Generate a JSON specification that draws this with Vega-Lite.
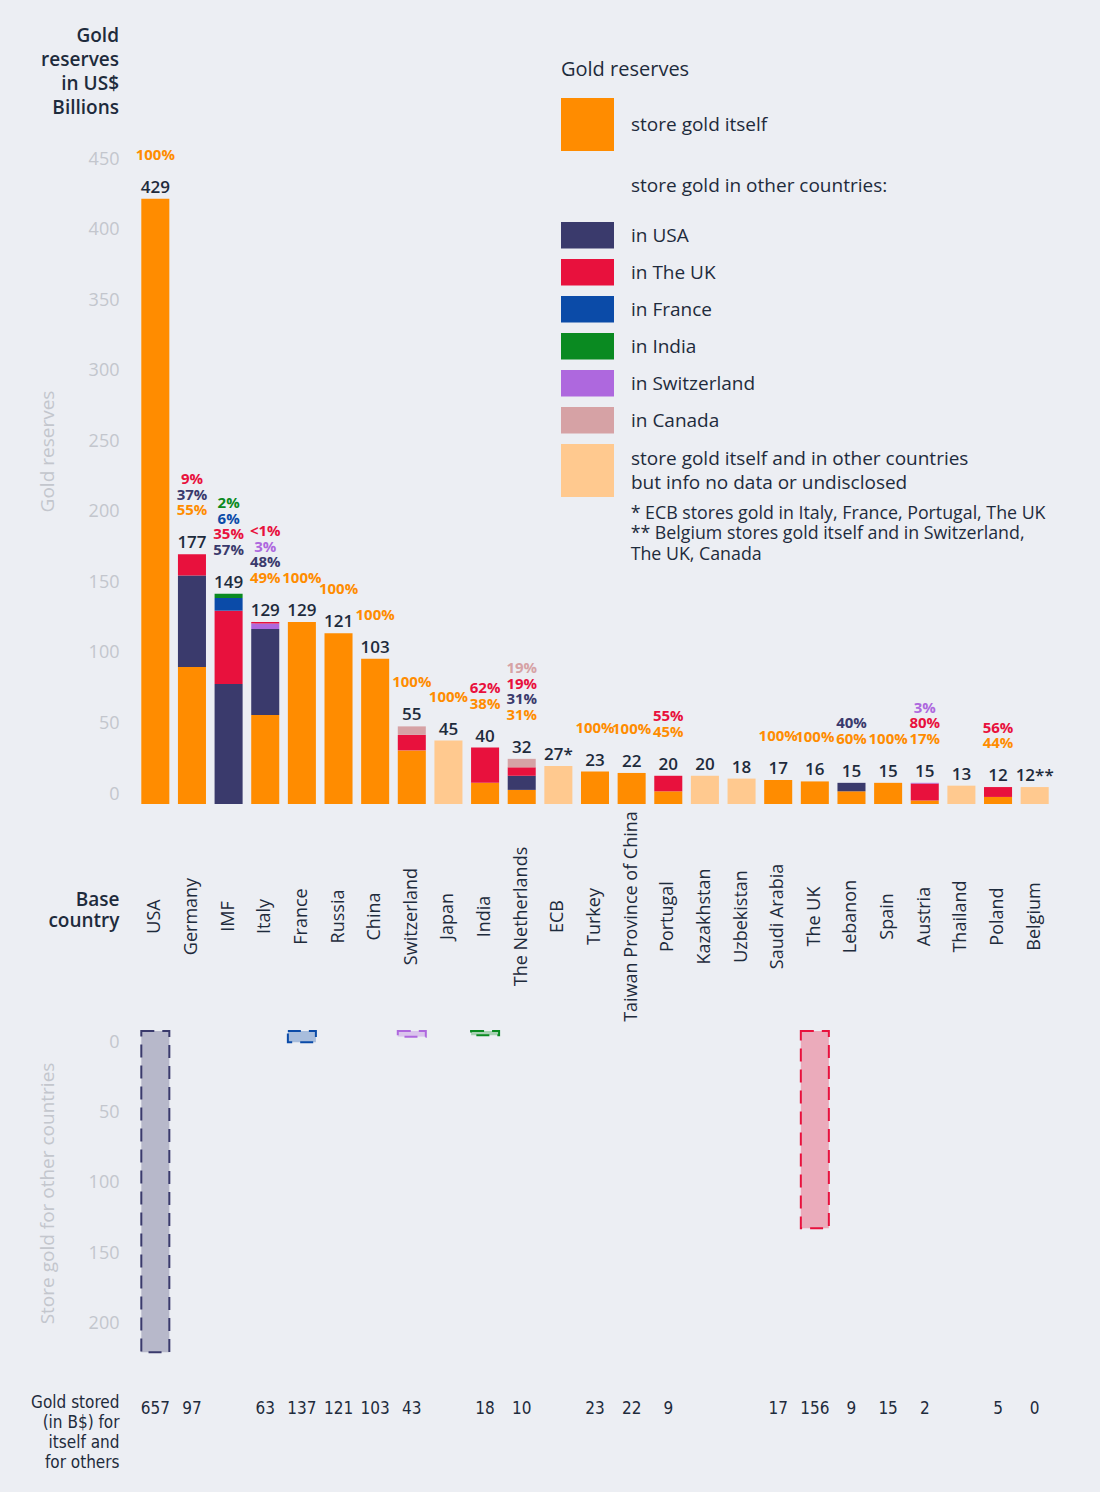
{
  "$schema": "https://vega.github.io/schema/vega-lite/v6.json",
  "background": "#eceef3",
  "padding": {"left": 30, "top": 26, "right": 47, "bottom": 22},
  "config": {
    "font": "Open Sans",
    "view": {"stroke": null},
    "axis": {"grid": false, "domain": false, "ticks": false}
  },
  "datasets": {
    "seg": [
      {"country": "USA", "cat": "store gold itself", "v": 429},
      {"country": "Germany", "cat": "store gold itself", "v": 97},
      {"country": "Germany", "cat": "in USA", "v": 65},
      {"country": "Germany", "cat": "in The UK", "v": 15},
      {"country": "IMF", "cat": "in USA", "v": 85},
      {"country": "IMF", "cat": "in The UK", "v": 52},
      {"country": "IMF", "cat": "in France", "v": 9},
      {"country": "IMF", "cat": "in India", "v": 3},
      {"country": "Italy", "cat": "store gold itself", "v": 63},
      {"country": "Italy", "cat": "in USA", "v": 61},
      {"country": "Italy", "cat": "in Switzerland", "v": 4},
      {"country": "Italy", "cat": "in The UK", "v": 1},
      {"country": "France", "cat": "store gold itself", "v": 129},
      {"country": "Russia", "cat": "store gold itself", "v": 121},
      {"country": "China", "cat": "store gold itself", "v": 103},
      {"country": "Switzerland", "cat": "store gold itself", "v": 38},
      {"country": "Switzerland", "cat": "in The UK", "v": 11},
      {"country": "Switzerland", "cat": "in Canada", "v": 6},
      {"country": "Japan", "cat": "store gold itself and in other countries|but info no data or undisclosed", "v": 45},
      {"country": "India", "cat": "store gold itself", "v": 15},
      {"country": "India", "cat": "in The UK", "v": 25},
      {"country": "The Netherlands", "cat": "store gold itself", "v": 10},
      {"country": "The Netherlands", "cat": "in USA", "v": 10},
      {"country": "The Netherlands", "cat": "in The UK", "v": 6},
      {"country": "The Netherlands", "cat": "in Canada", "v": 6},
      {"country": "ECB", "cat": "store gold itself and in other countries|but info no data or undisclosed", "v": 27},
      {"country": "Turkey", "cat": "store gold itself", "v": 23},
      {"country": "Taiwan Province of China", "cat": "store gold itself", "v": 22},
      {"country": "Portugal", "cat": "store gold itself", "v": 9},
      {"country": "Portugal", "cat": "in The UK", "v": 11},
      {"country": "Kazakhstan", "cat": "store gold itself and in other countries|but info no data or undisclosed", "v": 20},
      {"country": "Uzbekistan", "cat": "store gold itself and in other countries|but info no data or undisclosed", "v": 18},
      {"country": "Saudi Arabia", "cat": "store gold itself", "v": 17},
      {"country": "The UK", "cat": "store gold itself", "v": 16},
      {"country": "Lebanon", "cat": "store gold itself", "v": 9},
      {"country": "Lebanon", "cat": "in USA", "v": 6},
      {"country": "Spain", "cat": "store gold itself", "v": 15},
      {"country": "Austria", "cat": "store gold itself", "v": 2.5},
      {"country": "Austria", "cat": "in The UK", "v": 12},
      {"country": "Austria", "cat": "in Switzerland", "v": 0.5},
      {"country": "Thailand", "cat": "store gold itself and in other countries|but info no data or undisclosed", "v": 13},
      {"country": "Poland", "cat": "store gold itself", "v": 5},
      {"country": "Poland", "cat": "in The UK", "v": 7},
      {"country": "Belgium", "cat": "store gold itself and in other countries|but info no data or undisclosed", "v": 12}
    ],
    "totals": [
      {"country": "USA", "total": 429, "label": "429"},
      {"country": "Germany", "total": 177, "label": "177"},
      {"country": "IMF", "total": 149, "label": "149"},
      {"country": "Italy", "total": 129, "label": "129"},
      {"country": "France", "total": 129, "label": "129"},
      {"country": "Russia", "total": 121, "label": "121"},
      {"country": "China", "total": 103, "label": "103"},
      {"country": "Switzerland", "total": 55, "label": "55"},
      {"country": "Japan", "total": 45, "label": "45"},
      {"country": "India", "total": 40, "label": "40"},
      {"country": "The Netherlands", "total": 32, "label": "32"},
      {"country": "ECB", "total": 27, "label": "27*"},
      {"country": "Turkey", "total": 23, "label": "23"},
      {"country": "Taiwan Province of China", "total": 22, "label": "22"},
      {"country": "Portugal", "total": 20, "label": "20"},
      {"country": "Kazakhstan", "total": 20, "label": "20"},
      {"country": "Uzbekistan", "total": 18, "label": "18"},
      {"country": "Saudi Arabia", "total": 17, "label": "17"},
      {"country": "The UK", "total": 16, "label": "16"},
      {"country": "Lebanon", "total": 15, "label": "15"},
      {"country": "Spain", "total": 15, "label": "15"},
      {"country": "Austria", "total": 15, "label": "15"},
      {"country": "Thailand", "total": 13, "label": "13"},
      {"country": "Poland", "total": 12, "label": "12"},
      {"country": "Belgium", "total": 12, "label": "12**"}
    ],
    "pcts": [
      {"country": "USA", "pct": "100%", "cat": "store gold itself"},
      {"country": "Germany", "pct": "55%", "cat": "store gold itself"},
      {"country": "Germany", "pct": "37%", "cat": "in USA"},
      {"country": "Germany", "pct": "9%", "cat": "in The UK"},
      {"country": "IMF", "pct": "57%", "cat": "in USA"},
      {"country": "IMF", "pct": "35%", "cat": "in The UK"},
      {"country": "IMF", "pct": "6%", "cat": "in France"},
      {"country": "IMF", "pct": "2%", "cat": "in India"},
      {"country": "Italy", "pct": "49%", "cat": "store gold itself"},
      {"country": "Italy", "pct": "48%", "cat": "in USA"},
      {"country": "Italy", "pct": "3%", "cat": "in Switzerland"},
      {"country": "Italy", "pct": "<1%", "cat": "in The UK"},
      {"country": "France", "pct": "100%", "cat": "store gold itself"},
      {"country": "Russia", "pct": "100%", "cat": "store gold itself"},
      {"country": "China", "pct": "100%", "cat": "store gold itself"},
      {"country": "Switzerland", "pct": "100%", "cat": "store gold itself"},
      {"country": "Japan", "pct": "100%", "cat": "store gold itself"},
      {"country": "India", "pct": "38%", "cat": "store gold itself"},
      {"country": "India", "pct": "62%", "cat": "in The UK"},
      {"country": "The Netherlands", "pct": "31%", "cat": "store gold itself"},
      {"country": "The Netherlands", "pct": "31%", "cat": "in USA"},
      {"country": "The Netherlands", "pct": "19%", "cat": "in The UK"},
      {"country": "The Netherlands", "pct": "19%", "cat": "in Canada"},
      {"country": "Turkey", "pct": "100%", "cat": "store gold itself"},
      {"country": "Taiwan Province of China", "pct": "100%", "cat": "store gold itself"},
      {"country": "Portugal", "pct": "45%", "cat": "store gold itself"},
      {"country": "Portugal", "pct": "55%", "cat": "in The UK"},
      {"country": "Saudi Arabia", "pct": "100%", "cat": "store gold itself"},
      {"country": "The UK", "pct": "100%", "cat": "store gold itself"},
      {"country": "Lebanon", "pct": "60%", "cat": "store gold itself"},
      {"country": "Lebanon", "pct": "40%", "cat": "in USA"},
      {"country": "Spain", "pct": "100%", "cat": "store gold itself"},
      {"country": "Austria", "pct": "17%", "cat": "store gold itself"},
      {"country": "Austria", "pct": "80%", "cat": "in The UK"},
      {"country": "Austria", "pct": "3%", "cat": "in Switzerland"},
      {"country": "Poland", "pct": "44%", "cat": "store gold itself"},
      {"country": "Poland", "pct": "56%", "cat": "in The UK"}
    ],
    "others": [
      {"country": "USA", "cat": "in USA", "v": 228},
      {"country": "France", "cat": "in France", "v": 8},
      {"country": "Switzerland", "cat": "in Switzerland", "v": 4},
      {"country": "India", "cat": "in India", "v": 3},
      {"country": "The UK", "cat": "in The UK", "v": 140}
    ],
    "stored": [
      {"country": "USA", "n": "657"},
      {"country": "Germany", "n": "97"},
      {"country": "Italy", "n": "63"},
      {"country": "France", "n": "137"},
      {"country": "Russia", "n": "121"},
      {"country": "China", "n": "103"},
      {"country": "Switzerland", "n": "43"},
      {"country": "India", "n": "18"},
      {"country": "The Netherlands", "n": "10"},
      {"country": "Turkey", "n": "23"},
      {"country": "Taiwan Province of China", "n": "22"},
      {"country": "Portugal", "n": "9"},
      {"country": "Saudi Arabia", "n": "17"},
      {"country": "The UK", "n": "156"},
      {"country": "Lebanon", "n": "9"},
      {"country": "Spain", "n": "15"},
      {"country": "Austria", "n": "2"},
      {"country": "Poland", "n": "5"},
      {"country": "Belgium", "n": "0"}
    ]
  },
  "spacing": 8,
  "vconcat": [
    {
      "width": 916,
      "height": 635,
      "title": {
        "text": ["Gold", "reserves", "in US$", "Billions"],
        "anchor": "start",
        "frame": "group",
        "align": "right",
        "dx": -18,
        "fontSize": 19,
        "fontWeight": 600,
        "color": "#1e2b3c",
        "lineHeight": 24,
        "offset": 30
      },
      "layer": [
        {
          "data": {"name": "seg"},
          "transform": [{"window": [{"op": "row_number", "as": "k"}], "groupby": ["country"]}],
          "mark": {"type": "bar"},
          "encoding": {
            "x": {
              "field": "country",
              "type": "nominal",
              "scale": {
                "domain": ["USA", "Germany", "IMF", "Italy", "France", "Russia", "China", "Switzerland", "Japan", "India", "The Netherlands", "ECB", "Turkey", "Taiwan Province of China", "Portugal", "Kazakhstan", "Uzbekistan", "Saudi Arabia", "The UK", "Lebanon", "Spain", "Austria", "Thailand", "Poland", "Belgium"],
                "paddingInner": 0.235,
                "paddingOuter": 0.1175
              },
              "axis": {
                "title": ["Base", "country"],
                "labelAngle": -90,
                "labelAlign": "center",
                "labelBaseline": "middle",
                "labelPadding": 112,
                "labelLimit": 400,
                "labelFontSize": 18,
                "labelFontWeight": 500,
                "labelColor": "#1e2b3c",
                "titleAngle": 0,
                "titleX": -18,
                "titleY": 86,
                "titleAlign": "right",
                "titleBaseline": "top",
                "titleFontSize": 19,
                "titleFontWeight": 600,
                "titleColor": "#1e2b3c"
              }
            },
            "y": {
              "field": "v",
              "type": "quantitative",
              "stack": "zero",
              "scale": {"domain": [0, 450], "nice": false},
              "axis": {
                "title": "Gold reserves",
                "values": [0, 50, 100, 150, 200, 250, 300, 350, 400, 450],
                "labelOffset": -10,
                "labelPadding": 18,
                "labelFontSize": 18,
                "labelColor": "#c3c6cd",
                "titleColor": "#c3c6cd",
                "titleFontSize": 19,
                "titleFontWeight": 400,
                "titlePadding": 31,
                "titleY": 282
              }
            },
            "color": {
              "field": "cat",
              "type": "nominal",
              "scale": {
                "domain": ["store gold itself", "store gold in other countries:", "in USA", "in The UK", "in France", "in India", "in Switzerland", "in Canada", "store gold itself and in other countries|but info no data or undisclosed"],
                "range": ["#ff8c00", "rgba(0,0,0,0)", "#3a3a6c", "#e8113d", "#0b4ba8", "#0a8a21", "#ae68de", "#d6a2a5", "#ffc98f"]
              },
              "legend": {
                "orient": "none",
                "legendX": 424,
                "legendY": -109,
                "padding": 0,
                "title": "Gold reserves",
                "titleFontSize": 20,
                "titleFontWeight": 500,
                "titleColor": "#1e2b3c",
                "titlePadding": 18,
                "labelFontSize": 19,
                "labelFontWeight": 500,
                "labelColor": "#1e2b3c",
                "labelLimit": 600,
                "labelOffset": 17,
                "labelExpr": "split(datum.label, '|')",
                "symbolSize": 2809,
                "symbolStrokeWidth": 0,
                "symbolOpacity": 1,
                "rowPadding": 0,
                "encode": {
                  "symbols": {
                    "update": {
                      "shape": {"signal": "datum.value === 'store gold in other countries:' ? 'M-1,-1H1V1.29H-1Z' : datum.value === 'in Canada' ? 'M-1,-0.626H1V0.374H-1Z M-1,0.74L-1,0.74' : (indexof(['in USA','in The UK','in France','in India','in Switzerland'], datum.value) >= 0 ? 'M-1,-0.626H1V0.374H-1Z' : 'square')"}
                    }
                  },
                  "labels": {
                    "update": {
                      "dy": {"signal": "datum.value === 'store gold in other countries:' ? 8 : (indexof(['in USA','in The UK','in France','in India','in Switzerland','in Canada'], datum.value) >= 0 ? -3 : (datum.value === 'store gold itself' ? 0 : -12))"},
                      "lineHeight": {"value": 24}
                    }
                  }
                }
              }
            },
            "order": {"field": "k"}
          }
        },
        {
          "data": {"name": "totals"},
          "mark": {"type": "text", "baseline": "bottom", "dy": -2, "fontSize": 17, "fontWeight": 600, "color": "#1e2b3c"},
          "encoding": {
            "x": {"field": "country", "type": "nominal"},
            "y": {"field": "total", "type": "quantitative"},
            "text": {"field": "label"}
          }
        },
        {
          "data": {"name": "pcts"},
          "transform": [
            {"window": [{"op": "row_number", "as": "k"}], "groupby": ["country"]},
            {"lookup": "country", "from": {"data": {"name": "totals"}, "key": "country", "fields": ["total"]}}
          ],
          "encoding": {
            "x": {"field": "country", "type": "nominal"},
            "y": {"field": "total", "type": "quantitative"},
            "text": {"field": "pct"},
            "color": {"field": "cat", "type": "nominal"}
          },
          "layer": [
            {"transform": [{"filter": "datum.k == 1"}], "mark": {"type": "text", "dy": -44, "fontSize": 15, "fontWeight": 700}},
            {"transform": [{"filter": "datum.k == 2"}], "mark": {"type": "text", "dy": -59.5, "fontSize": 15, "fontWeight": 700}},
            {"transform": [{"filter": "datum.k == 3"}], "mark": {"type": "text", "dy": -75, "fontSize": 15, "fontWeight": 700}},
            {"transform": [{"filter": "datum.k == 4"}], "mark": {"type": "text", "dy": -90.5, "fontSize": 15, "fontWeight": 700}}
          ]
        },
        {
          "data": {"values": [{"note": "footnotes"}]},
          "mark": {
            "type": "text",
            "align": "left",
            "baseline": "top",
            "dx": -1,
            "fontSize": 17.8,
            "fontWeight": 500,
            "lineHeight": 20.5,
            "color": "#1e2b3c",
            "text": ["* ECB stores gold in Italy, France, Portugal, The UK", "** Belgium stores gold itself and in Switzerland,", "The UK, Canada"]
          },
          "encoding": {
            "x": {"datum": "Taiwan Province of China", "type": "nominal"},
            "y": {"datum": 212, "type": "quantitative"}
          }
        }
      ]
    },
    {
      "width": 916,
      "height": 324,
      "data": {"name": "others"},
      "mark": {"type": "bar", "fillOpacity": 0.3, "strokeDash": [13, 8], "strokeWidth": 2},
      "encoding": {
        "x": {
          "field": "country",
          "type": "nominal",
          "scale": {
            "domain": ["USA", "Germany", "IMF", "Italy", "France", "Russia", "China", "Switzerland", "Japan", "India", "The Netherlands", "ECB", "Turkey", "Taiwan Province of China", "Portugal", "Kazakhstan", "Uzbekistan", "Saudi Arabia", "The UK", "Lebanon", "Spain", "Austria", "Thailand", "Poland", "Belgium"],
            "paddingInner": 0.235,
            "paddingOuter": 0.1175
          },
          "axis": null
        },
        "y": {
          "field": "v",
          "type": "quantitative",
          "scale": {"domain": [0, 230], "reverse": true, "nice": false},
          "axis": {
            "title": "Store gold for other countries",
            "values": [0, 50, 100, 150, 200],
            "labelOffset": 11,
            "labelPadding": 18,
            "labelFontSize": 18,
            "labelColor": "#c3c6cd",
            "titleColor": "#c3c6cd",
            "titleFontSize": 19,
            "titleFontWeight": 400,
            "titlePadding": 31
          }
        },
        "fill": {
          "field": "cat",
          "type": "nominal",
          "scale": {"domain": ["in USA", "in The UK", "in France", "in India", "in Switzerland"], "range": ["#3a3a6c", "#e8113d", "#0b4ba8", "#0a8a21", "#ae68de"]},
          "legend": null
        },
        "stroke": {
          "field": "cat",
          "type": "nominal",
          "scale": {"domain": ["in USA", "in The UK", "in France", "in India", "in Switzerland"], "range": ["#3a3a6c", "#e8113d", "#0b4ba8", "#0a8a21", "#ae68de"]},
          "legend": null
        }
      }
    },
    {
      "width": 916,
      "height": 92,
      "data": {"name": "stored"},
      "mark": {"type": "text", "font": "'DejaVu Sans Condensed', 'Liberation Sans Narrow', Roboto", "fontSize": 17, "color": "#1e2b3c"},
      "encoding": {
        "x": {
          "field": "country",
          "type": "nominal",
          "scale": {
            "domain": ["USA", "Germany", "IMF", "Italy", "France", "Russia", "China", "Switzerland", "Japan", "India", "The Netherlands", "ECB", "Turkey", "Taiwan Province of China", "Portugal", "Kazakhstan", "Uzbekistan", "Saudi Arabia", "The UK", "Lebanon", "Spain", "Austria", "Thailand", "Poland", "Belgium"],
            "paddingInner": 0.235,
            "paddingOuter": 0.1175
          },
          "axis": null
        },
        "y": {
          "datum": "Gold stored",
          "type": "nominal",
          "axis": {
            "title": null,
            "labelExpr": "['Gold stored', '(in B$) for', 'itself and', 'for others']",
            "labelBaseline": "top",
            "labelOffset": -15,
            "labelPadding": 18,
            "labelFontSize": 17,
            "labelFont": "'DejaVu Sans Condensed', 'Liberation Sans Narrow', Roboto",
            "labelColor": "#1e2b3c",
            "labelLineHeight": 20
          }
        },
        "text": {"field": "n"}
      }
    }
  ]
}
